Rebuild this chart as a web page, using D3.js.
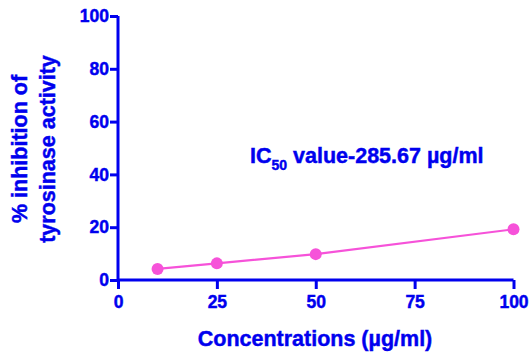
<!DOCTYPE html>
<html>
<head>
<meta charset="utf-8">
<script src="https://cdn.jsdelivr.net/npm/d3@7"></script>
<style>
  html, body { margin: 0; padding: 0; background: #fff; }
  svg { display: block; font-family: "Liberation Sans", Arial, sans-serif; font-weight: bold; }
  svg text { stroke: #0000ee; stroke-width: 0.45px; }
</style>
</head>
<body>
<div id="chart"></div>
<script>
var concentrations = [10, 25, 50, 100];
var inhibition = [4.2, 6.3, 9.8, 19.2];
var xTicks = [0, 25, 50, 75, 100];
var yTicks = [0, 20, 40, 60, 80, 100];

var width = 532,
    height = 352,
    margin = { top: 16, right: 18, bottom: 72, left: 118 },
    blue = '#0000ee',
    pink = '#f652d9';

var svg = d3.select('#chart').append('svg')
    .attr('width', width)
    .attr('height', height);

var x = d3.scaleLinear().domain([0, 100]).range([margin.left, 513.5]);
var y = d3.scaleLinear().domain([0, 100]).range([280, margin.top]);

// axes
var xAxis = svg.append('g')
    .attr('transform', 'translate(0,' + y(0) + ')')
    .call(d3.axisBottom(x).tickValues(xTicks).tickSize(9).tickPadding(7).tickFormat(d3.format('d')));

var yAxis = svg.append('g')
    .attr('transform', 'translate(' + x(0) + ',0)')
    .call(d3.axisLeft(y).tickValues(yTicks).tickSize(8).tickPadding(1).tickFormat(d3.format('d')));

[xAxis, yAxis].forEach(function (a) {
    a.select('.domain').attr('stroke', blue).attr('stroke-width', 3);
    a.selectAll('.tick line').attr('stroke', blue).attr('stroke-width', 3);
    a.selectAll('.tick text')
        .attr('fill', blue)
        .style('font-size', '17.5px')
        .style('font-weight', 'bold')
        .style('font-family', '"Liberation Sans", Arial, sans-serif');
});
xAxis.select('.domain').attr('d', 'M' + x(0) + ',0H' + x(100));
yAxis.select('.domain').attr('d', 'M0,' + y(100) + 'V' + y(0));

// data line
var line = d3.line()
    .x(function (d, i) { return x(concentrations[i]); })
    .y(function (d) { return y(d); });

svg.append('path')
    .datum(inhibition)
    .attr('d', line)
    .attr('fill', 'none')
    .attr('stroke', pink)
    .attr('stroke-width', 2.2);

svg.selectAll('circle.pt')
    .data(inhibition)
    .enter().append('circle')
    .attr('class', 'pt')
    .attr('cx', function (d, i) { return x(concentrations[i]); })
    .attr('cy', function (d) { return y(d); })
    .attr('r', 6)
    .attr('fill', pink);

// axis titles
svg.append('text')
    .text('Concentrations (µg/ml)')
    .attr('x', 315)
    .attr('y', 346)
    .attr('text-anchor', 'middle')
    .attr('fill', blue)
    .style('font-size', '21.5px');

var yTitle = svg.append('g')
    .attr('transform', 'translate(0,149) rotate(-90)');
yTitle.append('text')
    .text('% inhibition of')
    .attr('x', 0)
    .attr('y', 27)
    .attr('text-anchor', 'middle')
    .attr('fill', blue)
    .style('font-size', '21.5px');
yTitle.append('text')
    .text('tyrosinase activity')
    .attr('x', 0)
    .attr('y', 55)
    .attr('text-anchor', 'middle')
    .attr('fill', blue)
    .style('font-size', '21.5px');

// annotation
var note = svg.append('text')
    .attr('x', 250)
    .attr('y', 163)
    .attr('fill', blue)
    .style('font-size', '21.5px');
note.append('tspan').text('IC');
note.append('tspan').text('50').attr('dy', 7).style('font-size', '14px');
note.append('tspan').text(' value-285.67 µg/ml').attr('dy', -7);
</script>
</body>
</html>
